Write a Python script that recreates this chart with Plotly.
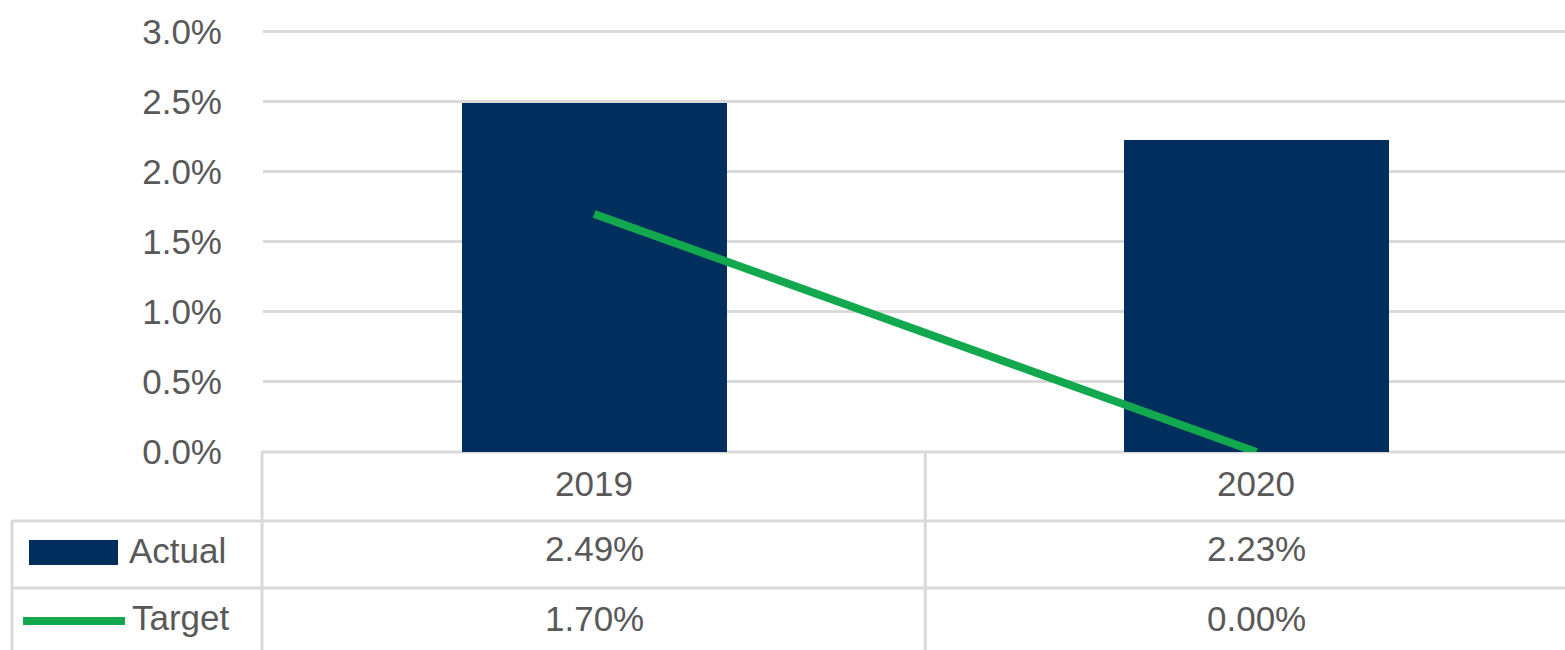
import plotly.graph_objects as go

# ---- data ----
categories = ["2019", "2020"]
actual = [2.49, 2.23]
target = [1.70, 0.00]
series_names = ["Actual", "Target"]
y_ticks = [0.0, 0.5, 1.0, 1.5, 2.0, 2.5, 3.0]

# ---- style / layout ----
W_FIG, H_FIG = 1565, 650
Y_MAX = 3.02
PX_PER_UNIT = 140.1
L, R_EDGE = 263, 1565          # plot area left/right (px)
BOT = 452                      # plot area bottom (px)
PH = PX_PER_UNIT * Y_MAX
TOP = BOT - PH
PW = R_EDGE - L
NAVY = "#002F5E"
GREEN = "#12A84E"
GRID = "#D9D9D9"
TXT = "#595959"
FONT = "Liberation Sans"
FS = 35

def px(X):
    return (X - L) / PW

def py(Y):
    return (BOT - Y) / PH

fig = go.Figure()
fig.add_trace(go.Bar(x=categories, y=actual, name=series_names[0],
                     marker=dict(color=NAVY, line=dict(width=0)), width=0.40))
fig.add_trace(go.Scatter(x=categories, y=target, name=series_names[1], mode="lines",
                         line=dict(color=GREEN, width=8), cliponaxis=True))

shapes = []
line_style = dict(color=GRID, width=3)
# table horizontal lines
shapes.append(dict(type="line", xref="paper", yref="paper", x0=px(261.5), x1=px(1570), y0=py(452), y1=py(452), line=line_style, layer="below"))
for Y in (521, 588):
    shapes.append(dict(type="line", xref="paper", yref="paper", x0=px(12), x1=px(1570), y0=py(Y), y1=py(Y), line=line_style))
# table vertical lines
shapes.append(dict(type="line", xref="paper", yref="paper", x0=px(262), x1=px(262), y0=py(452), y1=py(660), line=line_style))
shapes.append(dict(type="line", xref="x", yref="paper", x0=0.5, x1=0.5, y0=py(452), y1=py(660), line=line_style))
shapes.append(dict(type="line", xref="paper", yref="paper", x0=px(12), x1=px(12), y0=py(520), y1=py(660), line=line_style))
# legend keys
shapes.append(dict(type="rect", xref="paper", yref="paper", x0=px(29), x1=px(118), y0=py(540), y1=py(565),
                   fillcolor=NAVY, line=dict(width=0)))
shapes.append(dict(type="line", xref="paper", yref="paper", x0=px(23), x1=px(125), y0=py(621), y1=py(621),
                   line=dict(color=GREEN, width=8)))

annotations = []
font = dict(family=FONT, size=FS, color=TXT)
for i, c in enumerate(categories):
    annotations.append(dict(xref="x", yref="paper", x=i, y=py(484), text=c, showarrow=False, font=font,
                            xanchor="center", yanchor="middle"))
    annotations.append(dict(xref="x", yref="paper", x=i, y=py(549), text=f"{actual[i]:.2f}%", showarrow=False,
                            font=font, xanchor="center", yanchor="middle"))
    annotations.append(dict(xref="x", yref="paper", x=i, y=py(619), text=f"{target[i]:.2f}%", showarrow=False,
                            font=font, xanchor="center", yanchor="middle"))
annotations.append(dict(xref="paper", yref="paper", x=px(127), y=py(551), text=series_names[0], showarrow=False,
                        font=font, xanchor="left", yanchor="middle"))
annotations.append(dict(xref="paper", yref="paper", x=px(130), y=py(618), text=series_names[1], showarrow=False,
                        font=font, xanchor="left", yanchor="middle"))

fig.update_layout(
    width=W_FIG, height=H_FIG,
    margin=dict(l=L, r=W_FIG - R_EDGE, t=TOP, b=H_FIG - BOT, pad=0),
    paper_bgcolor="white", plot_bgcolor="white",
    showlegend=False,
    bargap=0,
    font=dict(family=FONT, size=FS, color=TXT),
    shapes=shapes, annotations=annotations,
    xaxis=dict(type="category", range=[-0.5, 1.466], showticklabels=False, showgrid=False,
               zeroline=False, showline=False, ticks="", fixedrange=True),
    yaxis=dict(range=[0, Y_MAX], tickvals=y_ticks, ticktext=[f"{v:.1f}%" for v in y_ticks],
               showgrid=True, gridcolor=GRID, gridwidth=3, zeroline=False, showline=False,
               ticks="", ticklabelstandoff=40, tickfont=dict(family=FONT, size=FS, color=TXT)),
)

fig.write_html("out.html", config={"displayModeBar": False},
               post_script="document.body.style.margin='0';document.body.style.overflow='hidden';")
